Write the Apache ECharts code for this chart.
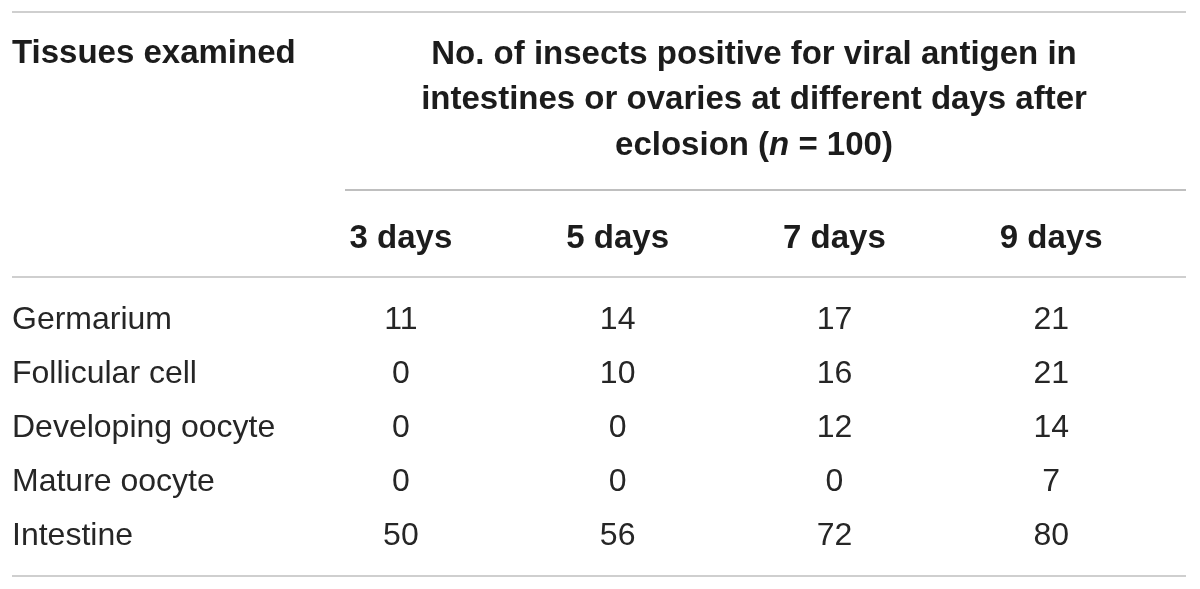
<!DOCTYPE html>
<html lang="en">
<head>
  <meta charset="UTF-8">
  <title>Insects positive for viral antigen</title>
  <style>
    * { margin: 0; padding: 0; box-sizing: border-box; }
    body { background: #fff; }
    #chart { width: 1200px; height: 589px; }
  </style>
</head>
<body>
  <div id="chart"></div>
  <script src="https://cdn.jsdelivr.net/npm/echarts@6/dist/echarts.min.js"></script>
  <script>
    // table data
    const tissues = ['Germarium', 'Follicular cell', 'Developing oocyte', 'Mature oocyte', 'Intestine']
    const dayLabels = ['3 days', '5 days', '7 days', '9 days']
    const day3 = [11, 0, 0, 0, 50]
    const day5 = [14, 10, 0, 0, 56]
    const day7 = [17, 16, 12, 0, 72]
    const day9 = [21, 21, 14, 7, 80]
    const columns = [day3, day5, day7, day9]

    const FONT = '"Liberation Sans", Arial, Helvetica, sans-serif'
    const cells = []
    columns.forEach(function (col, ci) {
      col.forEach(function (v, ri) {
        cells.push([ci, ri, v])
      })
    })

    const chart = echarts.init(document.getElementById('chart'))
    chart.setOption({
      animation: false,
      grid: { left: 292.5, right: 40.4, top: 293.5, bottom: 25.5 },
      xAxis: {
        type: 'category',
        position: 'top',
        data: dayLabels,
        axisLine: { show: false },
        axisTick: { show: false },
        splitLine: { show: false },
        axisLabel: {
          margin: 38,
          fontFamily: FONT,
          fontSize: 33,
          fontWeight: 'bold',
          color: '#1c1c1c'
        }
      },
      yAxis: {
        type: 'category',
        inverse: true,
        data: tissues,
        axisLine: { show: false },
        axisTick: { show: false },
        splitLine: { show: false },
        axisLabel: {
          align: 'left',
          margin: 280.5,
          fontFamily: FONT,
          fontSize: 32,
          color: '#262626'
        }
      },
      series: [{
        type: 'scatter',
        data: cells,
        symbolSize: 1,
        itemStyle: { color: 'rgba(0,0,0,0)', opacity: 1 },
        label: {
          show: true,
          position: 'inside',
          formatter: function (p) { return p.value[2] },
          fontFamily: FONT,
          fontSize: 32,
          color: '#262626',
          opacity: 1
        }
      }],
      graphic: [
        { type: 'line', shape: { x1: 12, y1: 12, x2: 1186, y2: 12 }, style: { stroke: '#cfcfcf', lineWidth: 2 } },
        { type: 'line', shape: { x1: 345, y1: 190, x2: 1186, y2: 190 }, style: { stroke: '#808080', lineWidth: 1.2 } },
        { type: 'line', shape: { x1: 12, y1: 277, x2: 1186, y2: 277 }, style: { stroke: '#cfcfcf', lineWidth: 2 } },
        { type: 'line', shape: { x1: 12, y1: 576, x2: 1186, y2: 576 }, style: { stroke: '#cfcfcf', lineWidth: 2 } },
        {
          type: 'text',
          style: {
            text: 'Tissues examined',
            x: 12, y: 54,
            verticalAlign: 'middle',
            font: 'bold 33px ' + FONT,
            fill: '#1c1c1c'
          }
        },
        {
          type: 'text',
          style: {
            text: '{b|No. of insects positive for viral antigen in}\n{b|intestines or ovaries at different days after}\n{b|eclosion (}{i|n}{b| = 100)}',
            x: 754, y: 100,
            align: 'center',
            verticalAlign: 'middle',
            rich: {
              b: { fontFamily: FONT, fontSize: 33, fontWeight: 'bold', fill: '#1c1c1c', lineHeight: 45.5 },
              i: { fontFamily: FONT, fontSize: 33, fontWeight: 'bold', fontStyle: 'italic', fill: '#1c1c1c', lineHeight: 45.5 }
            }
          }
        }
      ]
    })
  </script>
</body>
</html>
